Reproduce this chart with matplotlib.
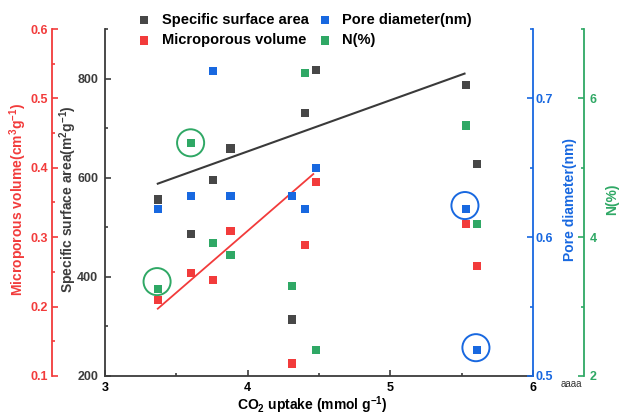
import matplotlib
matplotlib.use("Agg")
from matplotlib import pyplot as plt
from matplotlib.ticker import MultipleLocator
import numpy as np

plt.rcParams['font.family'] = ['Liberation Sans', 'DejaVu Sans']
plt.rcParams['font.weight'] = 'bold'
plt.rcParams['axes.labelweight'] = 'bold'
plt.rcParams['mathtext.fontset'] = 'custom'
plt.rcParams['mathtext.rm'] = 'Liberation Sans:bold'
plt.rcParams['mathtext.it'] = 'Liberation Sans:bold'
plt.rcParams['mathtext.bf'] = 'Liberation Sans:bold'
plt.rcParams['mathtext.default'] = 'bf'

# Daten
co2_uptake = [3.37, 3.60, 3.76, 3.88, 4.31, 4.40, 4.48, 5.53, 5.61]
surface_area = [556, 486, 595, 659, 314, 731, 818, 787, 628]
micro_volume = [0.209, 0.249, 0.238, 0.309, 0.118, 0.289, 0.379, 0.319, 0.259]
pore_diam = [0.620, 0.630, 0.720, 0.630, 0.630, 0.620, 0.650, 0.620, 0.519]
n_percent = [3.26, 5.36, 3.91, 3.74, 3.30, 6.36, 2.37, 5.61, 4.19]

# Trendlinien
ssa_fit_x = [3.37, 5.52]
ssa_fit_y = [588, 810]
micro_fit_x = [3.37, 4.46]
micro_fit_y = [0.197, 0.391]

# markierte Punkte (Kreise)
n_circle_x = [3.60, 3.365]
n_circle_y = [5.36, 3.36]
pore_circle_x = [5.523, 5.60]
pore_circle_y = [0.6228, 0.5204]

c_black = "#474747"
c_red = "#f23b3b"
c_blue = "#1868e0"
c_green = "#2fa865"
c_axis = "#3c3c3c"

fig = plt.figure(figsize=(6.19, 4.17), dpi=100)
ax = fig.add_axes([105 / 619, 41 / 417, 428 / 619, 347 / 417])
ax_r = ax.twinx()
ax_b = ax.twinx()
ax_g = ax.twinx()

# Hauptachse: spezifische Oberflaeche
ax.plot(ssa_fit_x, ssa_fit_y, color="#3a3a3a", lw=1.5, zorder=2)
h_ssa = ax.scatter(co2_uptake, surface_area, marker="s", s=34, color=c_black,
                   edgecolors="none", zorder=3, label="Specific surface area")
ax.set_xlim(3, 6)
ax.set_ylim(200, 900)
ax.xaxis.set_major_locator(MultipleLocator(1))
ax.xaxis.set_minor_locator(MultipleLocator(0.5))
ax.yaxis.set_major_locator(MultipleLocator(200))
ax.yaxis.set_minor_locator(MultipleLocator(100))
for s in ["top", "right"]:
    ax.spines[s].set_visible(False)
for s in ["left", "bottom"]:
    ax.spines[s].set_color(c_axis)
    ax.spines[s].set_linewidth(1.3)
ax.tick_params(axis="both", which="both", direction="in", color=c_axis, width=1.2)
ax.tick_params(which="major", length=4)
ax.tick_params(which="minor", length=2)
ax.tick_params(axis="y", labelcolor=c_axis, labelsize=9, pad=5)
ax.tick_params(axis="x", labelcolor="black", labelsize=9, pad=4)
ax.set_xlabel(r"CO$_2$ uptake (mmol g$^{-1}$)", fontsize=10, color="black",
              fontweight="bold")
ax.xaxis.set_label_coords(0.485, -0.052)
ax.set_ylabel(r"Specific surface area(m$^2$g$^{-1}$)", fontsize=10, color=c_axis,
              fontweight="bold")
ax.yaxis.set_label_coords(-0.061, 0.51)

# Mikroporenvolumen (linke, rote Achse)
ax_r.plot(micro_fit_x, micro_fit_y, color=c_red, lw=1.3, zorder=2)
h_mic = ax_r.scatter(co2_uptake, micro_volume, marker="s", s=34, color=c_red,
                     edgecolors="none", zorder=3, label="Microporous volume")
ax_r.set_ylim(0.1, 0.6)
ax_r.yaxis.set_major_locator(MultipleLocator(0.1))
ax_r.yaxis.set_minor_locator(MultipleLocator(0.05))
ax_r.spines["left"].set_visible(True)
ax_r.spines["left"].set_position(("outward", 38))
ax_r.spines["left"].set_color(c_red)
ax_r.spines["left"].set_linewidth(1.3)
for s in ["top", "right", "bottom"]:
    ax_r.spines[s].set_visible(False)
ax_r.yaxis.set_ticks_position("left")
ax_r.yaxis.set_label_position("left")
ax_r.tick_params(axis="y", which="both", direction="in", color=c_red, width=1.2,
                 labelcolor=c_red, labelsize=9, pad=3)
ax_r.tick_params(which="major", length=4)
ax_r.tick_params(which="minor", length=2)
ax_r.set_ylabel(r"Microporous volume(cm$^3$g$^{-1}$)", fontsize=10, color=c_red,
                fontweight="bold")
ax_r.yaxis.set_label_coords(-0.177, 0.51)

# Porendurchmesser (rechte, blaue Achse)
h_pore = ax_b.scatter(co2_uptake, pore_diam, marker="s", s=34, color=c_blue,
                      edgecolors="none", zorder=3, label="Pore diameter(nm)")
ax_b.scatter(pore_circle_x, pore_circle_y, marker="o", s=380, facecolors="none",
             edgecolors=c_blue, linewidths=1.4, zorder=4)
ax_b.set_ylim(0.5, 0.75)
ax_b.yaxis.set_major_locator(MultipleLocator(0.1))
ax_b.yaxis.set_minor_locator(MultipleLocator(0.05))
for s in ["top", "left", "bottom"]:
    ax_b.spines[s].set_visible(False)
ax_b.spines["right"].set_color(c_blue)
ax_b.spines["right"].set_linewidth(1.3)
ax_b.tick_params(axis="y", which="both", direction="in", color=c_blue, width=1.2,
                 labelcolor=c_blue, labelsize=9, pad=1.5)
ax_b.tick_params(which="major", length=4)
ax_b.tick_params(which="minor", length=2)
ax_b.set_ylabel("Pore diameter(nm)", fontsize=10, color=c_blue, fontweight="bold")
ax_b.yaxis.set_label_coords(1.07, 0.51)

# Stickstoffanteil (aeussere, gruene Achse)
h_n = ax_g.scatter(co2_uptake, n_percent, marker="s", s=34, color=c_green,
                   edgecolors="none", zorder=3, label="N(%)")
ax_g.scatter(n_circle_x, n_circle_y, marker="o", s=380, facecolors="none",
             edgecolors=c_green, linewidths=1.4, zorder=4)
ax_g.set_ylim(2, 7)
ax_g.yaxis.set_major_locator(MultipleLocator(2))
ax_g.yaxis.set_minor_locator(MultipleLocator(1))
for s in ["top", "left", "bottom"]:
    ax_g.spines[s].set_visible(False)
ax_g.spines["right"].set_position(("outward", 37))
ax_g.spines["right"].set_color(c_green)
ax_g.spines["right"].set_linewidth(1.3)
ax_g.tick_params(axis="y", which="both", direction="in", color=c_green, width=1.2,
                 labelcolor=c_green, labelsize=9, pad=4)
ax_g.tick_params(which="major", length=4)
ax_g.tick_params(which="minor", length=2)
ax_g.set_ylabel("N(%)", fontsize=10, color=c_green, fontweight="bold")
ax_g.yaxis.set_label_coords(1.168, 0.51)

# Tick-Beschriftungen fett
for a in [ax, ax_r, ax_b, ax_g]:
    for lbl in a.get_xticklabels() + a.get_yticklabels():
        lbl.set_fontweight("bold")

# Legende
fig.legend([h_ssa, h_mic, h_pore, h_n],
           ["Specific surface area", "Microporous volume", "Pore diameter(nm)", "N(%)"],
           ncol=2, loc="center", bbox_to_anchor=(0.492, 0.928), frameon=False,
           fontsize=10.5, handlelength=1.0, handletextpad=0.7, columnspacing=0.6,
           labelspacing=0.45, borderpad=0)

fig.text(571 / 619, 1 - 384 / 417, "aaaa", fontsize=7, fontweight="normal",
         color="#333333", ha="center", va="center")

fig.savefig("out.png", dpi=100)
